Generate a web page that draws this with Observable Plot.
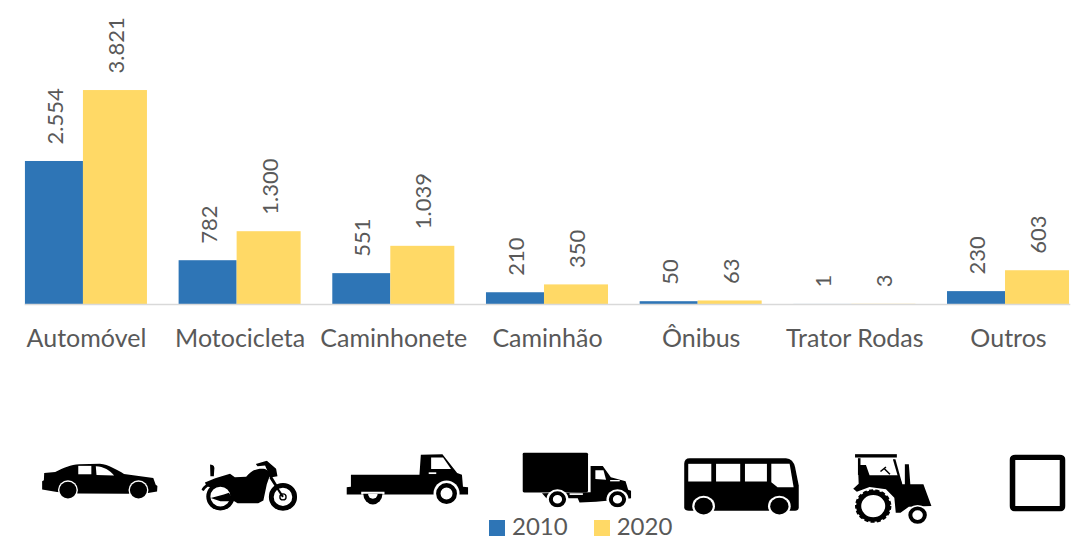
<!DOCTYPE html>
<html lang="pt-BR">
<head>
<meta charset="utf-8">
<script src="https://cdn.jsdelivr.net/npm/d3@7"></script>
<script src="https://cdn.jsdelivr.net/npm/@observablehq/plot@0.6"></script>
<style>
  html, body { margin: 0; padding: 0; background: #fff; }
  #wrap { position: relative; width: 1078px; height: 540px; overflow: hidden; font-family: Lato, sans-serif; }
  #wrap svg { display: block; }
  #legend { position: absolute; left: 489px; top: 511px; display: flex; color: #595959; font-size: 24px; line-height: 29px; }
  #legend span.item { display: flex; align-items: center; margin-right: 26px; }
  #legend i { display: block; width: 16px; height: 16px; margin-right: 7px; position: relative; top: 2px; }
</style>
</head>
<body>
<div id="wrap"><div id="chart"></div><div id="legend"></div></div>
<script>
const categories = ["Automóvel", "Motocicleta", "Caminhonete", "Caminhão", "Ônibus", "Trator Rodas", "Outros"];
const values2010 = [2554, 782, 551, 210, 50, 1, 230];
const values2020 = [3821, 1300, 1039, 350, 63, 3, 603];
const seriesNames = ["2010", "2020"];
const seriesColors = ["#2e75b6", "#ffd966"];

const rows = (vals, s) => categories.map((c, i) => ({category: c, series: s, value: vals[i]}));
const data2010 = rows(values2010, "2010");
const data2020 = rows(values2020, "2020");

const W = "#fff";
const ring = (cx, cy, r, sw, fill = W) => `<circle cx="${cx}" cy="${cy}" r="${r}" fill="${fill}" stroke="#000" stroke-width="${sw}"/>`;
const halo = (cx, cy, r) => `<circle cx="${cx}" cy="${cy}" r="${r}" fill="${W}"/>`;

const iconArt = {
  "Automóvel": {vb: [120, 62, 340, 110], box: [41, 462, 117, 37], art: `
    <path d="M128,93 L160,90 C185,78 205,68 230,67 L290,66 C315,68 340,85 360,96 L445,108 L452,128 L457,132 L456,148 L430,153 L370,155 L225,154 L165,150 L122,142 L122,118 L127,115 Z"/>
    <rect x="227" y="72" width="38" height="25" fill="${W}"/>
    <path d="M278,73 C300,74 320,85 331,101 L280,99 Z" fill="${W}"/>
    ${halo(197,144,29)}${halo(402,144,29)}
    <circle cx="197" cy="144" r="25"/><circle cx="402" cy="144" r="25"/>`},
  "Motocicleta": {vb: [585, 60, 282, 150], box: [201, 460, 97, 51], art: `
    <path d="M595,125 L625,112 L668,99 L682,109 L715,108 C730,90 745,82 770,85 L787,95 L775,130 L765,178 L750,186 L690,186 L665,170 L655,150 L625,145 L600,135 Z"/>
    <path d="M610,72 q16,0 12,18 l-1,16 l-10,0 Z"/>
    <path d="M743,70 L775,61 L802,84 L806,106 L785,110 L770,75 L748,77 Z"/>
    <path d="M782,100 L822,167" stroke="#000" stroke-width="7" fill="none"/>
    <path d="M588,148 C600,125 635,118 665,130" stroke="#000" stroke-width="8" fill="none"/>
    ${ring(640,166,35,12)}
    <path d="M612,170 L650,160 L665,155 L680,180 L640,180 Z"/>
    ${ring(822,167,34,14)}${ring(822,167,9,4)}
    <path d="M785,110 L822,167" stroke="#000" stroke-width="6" fill="none"/>`},
  "Caminhonete": {vb: [1005, 38, 356, 152], box: [346, 453, 122, 52], art: `
    <path d="M1018,100 L1218,100 L1222,42 L1285,40 L1328,95 L1342,100 L1345,135 L1360,137 L1360,158 L1005,158 L1005,137 L1018,135 Z"/>
    <path d="M1252,50 L1287,50 L1310,83 L1252,83 Z" fill="${W}"/>
    <rect x="1245" y="93" width="22" height="5" fill="${W}"/>
    <path d="M1048,150 h68 v8 h-68 Z" fill="${W}"/>
    <path d="M1054,156 a28,31 0 0 0 56,0 Z"/>
    <path d="M1068,156 a14,14 0 0 0 28,0 Z" fill="${W}"/>
    ${halo(1297,155,38)}
    ${ring(1297,155,24,13)}`},
  "Caminhão": {vb: [60, 35, 296, 162], box: [522, 452, 109, 55], art: `
    <rect x="60" y="35" width="178" height="118" rx="5"/>
    <path d="M245,75 L278,75 L300,108 L340,120 L347,145 L355,148 L355,170 L340,172 L260,180 L215,182 L210,170 L125,170 L113,155 L245,152 Z"/>
    <path d="M258,87 L280,87 L287,115 L258,113 Z" fill="${W}"/>
    <rect x="298" y="116" width="26" height="4" fill="${W}"/>
    <rect x="188" y="155" width="36" height="5" fill="${W}"/>
    ${halo(155,173,30)}${halo(318,173,30)}
    ${ring(155,173,18,11)}${ring(318,173,18,11)}`},
  "Ônibus": {vb: [495, 46, 317, 174], box: [683, 457, 116, 58], art: `
    <path d="M512,48 L775,48 Q795,50 800,75 L810,130 L810,195 Q810,205 800,206 L510,206 Q497,205 497,195 L497,65 Q497,48 512,48 Z"/>
    <rect x="508" y="65" width="63" height="53" fill="${W}"/>
    <rect x="584" y="65" width="66" height="53" fill="${W}"/>
    <rect x="663" y="65" width="60" height="53" fill="${W}"/>
    <path d="M735,65 L785,65 L796,135 L752,135 L735,120 Z" fill="${W}"/>
    ${halo(550,192,31)}${halo(757,192,31)}
    <circle cx="550" cy="192" r="25"/><circle cx="757" cy="192" r="25"/>`},
  "Trator Rodas": {vb: [953, 38, 220, 212], box: [852, 453, 80, 71], art: `
    <rect x="960" y="40" width="115" height="10"/>
    <rect x="968" y="52" width="7" height="50"/>
    <path d="M1064,55 L1071,55 L1090,130 L1084,130 Z"/>
    <path d="M968,72 L990,72 L1000,103 L1080,103 L1090,130 L1097,130 L1097,70 L1108,70 L1112,130 L1148,130 L1170,195 L1108,197 L1085,215 L1072,215 L1068,170 L1045,145 L1000,138 L965,152 L955,143 L970,128 Z"/>
    <path d="M1030,92 L1045,78 M1040,83 L1056,100" stroke="#000" stroke-width="4" fill="none"/>
    ${halo(1010,195,50)}
    <circle cx="1010" cy="195" r="40" fill="${W}" stroke="#000" stroke-width="14"/>
    <circle cx="1010" cy="195" r="46" fill="none" stroke="#000" stroke-width="8" stroke-dasharray="11 6"/>
    <circle cx="1010" cy="195" r="27" fill="${W}"/>
    ${halo(1132,222,30)}
    ${ring(1132,222,20,11)}`},
  "Outros": {vb: [1380, 40, 155, 167], box: [1009, 454, 56, 57], art: `
    <rect x="1388" y="48" width="139" height="151" rx="8" fill="none" stroke="#000" stroke-width="16"/>`}
};

const iconUri = ({vb, box, art}) => "data:image/svg+xml," + encodeURIComponent(
  `<svg xmlns="http://www.w3.org/2000/svg" width="${box[2]}" height="${box[3]}" viewBox="${vb.join(" ")}" preserveAspectRatio="none">${art}</svg>`);

const baselineY = 304;
const stepX = 153.67;
const bandStart = 25;

const iconMarks = categories.map((c, i) => {
  const ic = iconArt[c];
  const center = bandStart + 61 + i * stepX;
  return Plot.image([c], {
    fx: d => d,
    frameAnchor: "bottom",
    src: () => iconUri(ic),
    width: ic.box[2],
    height: ic.box[3],
    preserveAspectRatio: "none",
    dx: ic.box[0] + ic.box[2] / 2 - center,
    dy: ic.box[1] + ic.box[3] / 2 - baselineY
  });
});

const labelFmt = v => v.toLocaleString("pt-BR");
const labelOpts = {
  fx: "category", x: "series", y: "value",
  text: d => labelFmt(d.value),
  rotate: -90, textAnchor: "start", lineAnchor: "middle",
  dy: -17, fontSize: 22, fill: "#595959"
};

const chart = Plot.plot({
  width: 1078,
  height: 540,
  marginTop: 0,
  marginLeft: 9,
  marginRight: 0,
  marginBottom: 236,
  style: {fontFamily: "Lato, sans-serif", background: "#fff"},
  fx: {domain: categories, paddingInner: 0.206, paddingOuter: 0.081, align: 0.64, round: false, label: null},
  x: {domain: seriesNames, padding: 0, round: false, axis: null},
  y: {domain: [0, 5429], axis: null},
  marks: [
    Plot.axisFx({anchor: "bottom", tickSize: 0, tickPadding: 25, fontSize: 25, label: null, fill: "#595959"}),
    Plot.barY(data2010, {fx: "category", x: "series", y: "value", fill: seriesColors[0], insetRight: 3}),
    Plot.barY(data2020, {fx: "category", x: "series", y: "value", fill: seriesColors[1], insetLeft: -3}),
    Plot.frame({anchor: "bottom", facet: "super", stroke: "#d9d9d9", strokeWidth: 1.5}),
    Plot.text(data2010, labelOpts),
    Plot.text(data2020, labelOpts),
    ...iconMarks
  ]
});
document.getElementById("chart").appendChild(chart);

const legend = document.getElementById("legend");
seriesNames.forEach((name, i) => {
  const item = document.createElement("span");
  item.className = "item";
  const sw = document.createElement("i");
  sw.style.background = seriesColors[i];
  item.appendChild(sw);
  item.appendChild(document.createTextNode(name));
  legend.appendChild(item);
});
</script>
</body>
</html>
